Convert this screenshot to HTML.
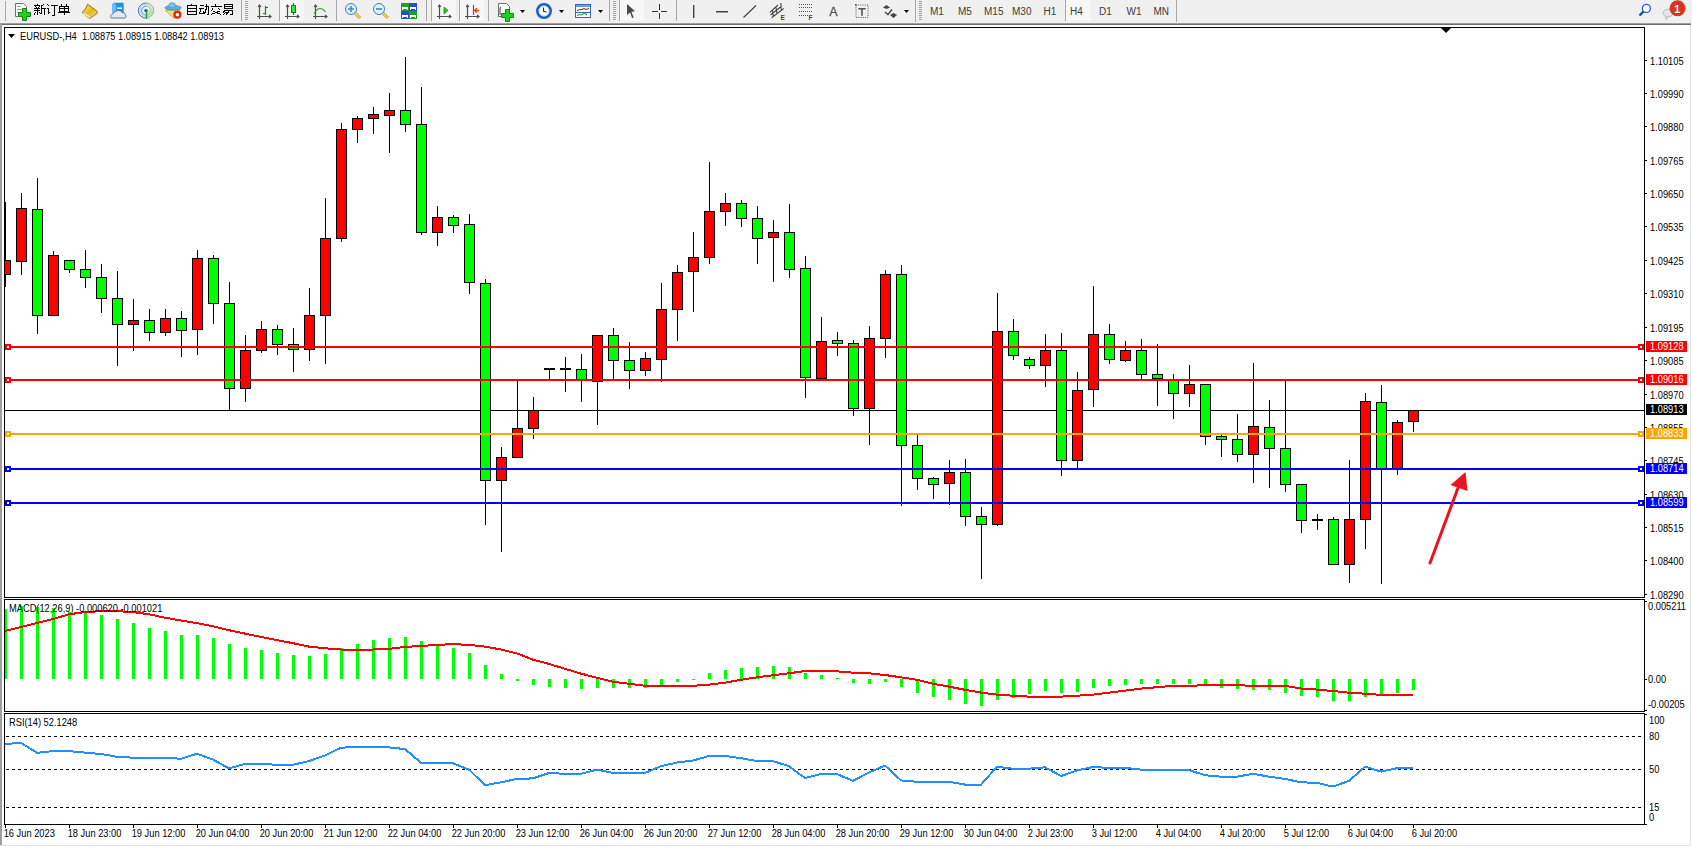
<!DOCTYPE html>
<html><head><meta charset="utf-8"><style>
html,body{margin:0;padding:0;width:1692px;height:847px;overflow:hidden;background:#f0f0f0;}
svg{position:absolute;left:0;top:0;font-family:"Liberation Sans", sans-serif;}
</style></head><body>
<svg width="1692" height="847" viewBox="0 0 1692 847">
<defs><clipPath id="cm"><rect x="5" y="28" width="1639" height="569"/></clipPath>
<clipPath id="cmacd"><rect x="5" y="600" width="1639" height="111"/></clipPath>
<clipPath id="crsi"><rect x="5" y="714" width="1639" height="110"/></clipPath></defs>
<!-- window bg -->
<rect x="0" y="0" width="1692" height="23" fill="#f0f0f0"/><rect x="0" y="23" width="1692" height="824" fill="#fff"/>
<rect x="0" y="23" width="1691" height="1" fill="#a0a0a0"/><rect x="0" y="24" width="1691" height="1" fill="#6e6e6e"/>
<rect x="0" y="23" width="2" height="823" fill="#a0a0a0"/>
<rect x="1690" y="25" width="1" height="821" fill="#e3e3e3"/>
<rect x="0" y="845" width="1691" height="1" fill="#e3e3e3"/>
<g id="toolbar">
<!-- separators -->
<g shape-rendering="crispEdges" fill="#a8a8a8">
<rect x="5" y="1" width="1" height="20"/>
<rect x="241" y="0" width="1" height="21"/>
<rect x="279" y="0" width="1" height="21"/>
<rect x="336" y="0" width="1" height="21"/>
<rect x="426" y="0" width="1" height="21"/>
<rect x="431" y="0" width="1" height="21"/>
<rect x="459" y="0" width="1" height="21"/>
<rect x="488" y="0" width="1" height="21"/>
<rect x="609" y="0" width="1" height="21"/>
<rect x="619" y="0" width="1" height="21"/>
<rect x="676" y="0" width="1" height="21"/>
<rect x="915" y="0" width="1" height="22"/>
<rect x="1065" y="0" width="1" height="21"/>
<rect x="1176" y="0" width="1" height="22"/>
</g>
<!-- grips -->
<g shape-rendering="crispEdges" fill="#a0a0a0">
<rect x="245" y="1" width="3" height="1"/><rect x="245" y="3" width="3" height="1"/><rect x="245" y="5" width="3" height="1"/><rect x="245" y="7" width="3" height="1"/><rect x="245" y="9" width="3" height="1"/><rect x="245" y="11" width="3" height="1"/><rect x="245" y="13" width="3" height="1"/><rect x="245" y="15" width="3" height="1"/><rect x="245" y="17" width="3" height="1"/><rect x="245" y="19" width="3" height="1"/>
<rect x="613" y="1" width="3" height="1"/><rect x="613" y="3" width="3" height="1"/><rect x="613" y="5" width="3" height="1"/><rect x="613" y="7" width="3" height="1"/><rect x="613" y="9" width="3" height="1"/><rect x="613" y="11" width="3" height="1"/><rect x="613" y="13" width="3" height="1"/><rect x="613" y="15" width="3" height="1"/><rect x="613" y="17" width="3" height="1"/><rect x="613" y="19" width="3" height="1"/>
<rect x="919" y="1" width="3" height="1"/><rect x="919" y="3" width="3" height="1"/><rect x="919" y="5" width="3" height="1"/><rect x="919" y="7" width="3" height="1"/><rect x="919" y="9" width="3" height="1"/><rect x="919" y="11" width="3" height="1"/><rect x="919" y="13" width="3" height="1"/><rect x="919" y="15" width="3" height="1"/><rect x="919" y="17" width="3" height="1"/><rect x="919" y="19" width="3" height="1"/>
</g>
<!-- checked button backgrounds -->
<g shape-rendering="crispEdges" fill="#f7f7f7">
<rect x="280" y="0" width="24" height="21"/>
<rect x="432" y="0" width="24" height="21"/>
<rect x="460" y="0" width="24" height="21"/>
<rect x="620" y="0" width="24" height="21"/>
<rect x="1066" y="0" width="24" height="21"/>
</g>
<!-- new order icon -->
<path d="M15.5,3.5 h8 l3,3 v10 h-11 z" fill="#fff" stroke="#707070"/>
<path d="M17,6.5 h4 M17,9.5 h6 M17,12.5 h5" stroke="#a0a0a0"/>
<path d="M22.5,8.5 h4 v4 h4 v4 h-4 v4 h-4 v-4 h-4 v-4 h4 z" fill="#1ed41e" stroke="#0f8a0f"/>
<!-- 新订单 -->
<g fill="none" stroke="#000" stroke-width="1" shape-rendering="crispEdges">
<path d="M37.5,4 v1.5 M34,5.5 h6 M35.5,6.5 l1,1.5 M39.5,6.5 l-1,1.5 M34,8.5 h6 M34,10.5 h6 M37.5,8.5 v6.5 M35.5,12 l-1.5,2.5 M39.5,12 l1,1.5"/>
<path d="M44,4.5 l-2.5,1 v7 l-1,2 M41.5,8.5 h4.5 M44.5,8.5 v6.5"/>
<path d="M47.5,4.5 l1,1.5 M46.5,8.5 h2 v5 l1.5,-1.5"/>
<path d="M50.5,5.5 h7.5 M54.5,5.5 v9.5 h-3"/>
<path d="M61,4 l1,1.5 M67,4 l-1,1.5 M59.5,6.5 h9 v5 h-9 z M59.5,8.5 h9 M64.5,6 v9 M58,12.5 h12"/>
</g>
<!-- book icon -->
<defs><linearGradient id="gbook" x1="0" y1="0" x2="1" y2="1"><stop offset="0" stop-color="#fff4a0"/><stop offset="0.5" stop-color="#e8b818"/><stop offset="1" stop-color="#f8e070"/></linearGradient></defs>
<polygon points="87.6,4.2 96.7,10.9 97.7,13 89.7,18.4 82.2,12.7 86,8" fill="url(#gbook)" stroke="#9a6a10" stroke-width="1" stroke-linejoin="round"/>
<path d="M83.5,13.2 l6.5,4" stroke="#fae6b0" stroke-width="1.6"/>
<path d="M90.5,16.8 l6.3,-4.3" stroke="#d8c890" stroke-width="1.2"/>
<!-- server cloud -->
<polygon points="112,4.5 114,2.8 123.5,2.8 123.5,12.5 112,12.5" fill="#1a8ae8"/>
<polygon points="112,4.5 114,2.8 116,4.5 116,12.5 112,12.5" fill="#60c0ff"/>
<rect x="116" y="4.5" width="7.5" height="8" fill="#2a90e0"/>
<rect x="117" y="7.5" width="5" height="1.5" fill="#e8f4ff"/>
<path d="M111,18 q-1.5,-3.5 2,-4 q0,-2.5 3,-2.5 q1,-1.5 3,-1 q2.5,0 3,2 q3,-0.5 3.5,2.5 q1.5,2 -0.5,3 z" fill="#e4e8f0" stroke="#5a6a98" stroke-width="0.9"/>
<!-- signal icon -->
<g fill="none" stroke-width="1">
<path d="M146,3 a7.6,7.6 0 0 0 0,15.2" stroke="#3a6ad0"/>
<path d="M146,3 a7.6,7.6 0 0 1 0,15.2" stroke="#7ab87a"/>
<path d="M146,6.2 a4.4,4.4 0 0 0 0,8.8" stroke="#5a88d8"/>
<path d="M146,6.2 a4.4,4.4 0 0 1 0,8.8" stroke="#8ac88a"/>
<path d="M146,4.6 a6,6 0 0 0 0,12" stroke="#b8ccf0"/>
<path d="M146,4.6 a6,6 0 0 1 0,12" stroke="#b8dcb8"/>
</g>
<path d="M146.5,11 L146.5,18.4 A7.5,7.5 0 0 0 153.5,11 z" fill="#a8d8a8" opacity="0.55"/>
<circle cx="146" cy="10.6" r="1.7" fill="#1a4ac0"/>
<path d="M146.5,10.6 v8" fill="none" stroke="#20a020" stroke-width="1.3"/>
<!-- EA hat -->
<polygon points="165.3,10.4 179.8,9.5 174.1,18.4" fill="#f4e070" stroke="#c8a030" stroke-width="0.8"/>
<ellipse cx="173" cy="7.8" rx="8" ry="2.2" fill="#60b4e4" stroke="#2a80b8" stroke-width="0.8"/>
<ellipse cx="172.2" cy="5.3" rx="3.5" ry="2.6" fill="#78c4ee" stroke="#3a90c8" stroke-width="0.6"/>
<circle cx="177.4" cy="14.7" r="4.1" fill="#dc2a14"/>
<rect x="175.9" y="13.2" width="3" height="3" fill="#fff"/>
<!-- 自动交易 -->
<g fill="none" stroke="#000" stroke-width="1" shape-rendering="crispEdges">
<path d="M191,4 l0.5,1.5 M187.5,5.5 h8.5 v9 h-8.5 z M187.5,8.5 h8.5 M187.5,11.5 h8.5"/>
<path d="M199.5,5.5 h4.5 M198.5,8.5 h5.5 M201,9 l-1.5,4.5 h4 M203,11.5 l1,2 M204.5,6.5 h4 v8 h-1.5 M206.5,4 v4 l-2,6"/>
<path d="M215.5,4 l0.5,1.5 M210.5,6.5 h11 M213,8.5 l-2,2.5 M218.5,8.5 l2,2 M213,11 l8,3.5 M219.5,11 l-8.5,3.5"/>
<path d="M224.5,4.5 h7.5 v4 h-7.5 z M224.5,6.5 h7.5 M223.5,10.5 h8.5 v4 h-2 M225,10.5 l-2,2 M226.5,12 l-3,2.5 M229,11.5 l-3,3"/>
</g>
<!-- bar chart icon -->
<g fill="none" stroke="#505050" stroke-width="1.2">
<path d="M259.5,5 v14 M257,16.5 h14 M258,7 l1.5,-2 l1.5,2 M269,15 l2,1.5 l-2,1.5"/>
<path d="M287.5,5 v14 M285,16.5 h14 M286,7 l1.5,-2 l1.5,2 M297,15 l2,1.5 l-2,1.5"/>
<path d="M315.5,5 v14 M313,16.5 h14 M314,7 l1.5,-2 l1.5,2 M325,15 l2,1.5 l-2,1.5"/>
<path d="M439.5,5 v14 M437,16.5 h14 M438,7 l1.5,-2 l1.5,2 M449,15 l2,1.5 l-2,1.5"/>
<path d="M467.5,5 v14 M465,16.5 h14 M466,7 l1.5,-2 l1.5,2 M477,15 l2,1.5 l-2,1.5"/>
</g>
<path d="M265.5,6 v9 M265.5,7.5 h2.5 M263,13.5 h2.5" fill="none" stroke="#109010" stroke-width="1.2"/>
<path d="M293.5,3 v12" stroke="#0a8a0a" stroke-width="1.2"/>
<rect x="291.5" y="5.5" width="4" height="7" fill="#40e040" stroke="#0a8a0a"/>
<path d="M314,13.5 q3,-5 6,-5 q3,0 5.5,3.5" fill="none" stroke="#30a030" stroke-width="1.1"/>
<polygon points="444,7 448,10.5 444,14" fill="#30c030" stroke="#109010" stroke-width="0.8"/>
<path d="M473.5,5 v10" stroke="#1a70b0" stroke-width="1.2"/>
<path d="M474.5,10.5 h4.5 M477,8.3 l-2.5,2.2 l2.5,2.2" fill="none" stroke="#e04a10" stroke-width="1.3"/>
<!-- zoom in / out -->
<g>
<path d="M355,13 l5,5" stroke="#b88a20" stroke-width="3"/>
<path d="M355,13 l5,5" stroke="#f0e070" stroke-width="1.6"/>
<circle cx="351" cy="9" r="5.5" fill="#dff0fc" stroke="#3c82c8" stroke-width="1"/>
<path d="M348,9 h6 M351,6 v6" stroke="#4a88b0" stroke-width="1.6"/>
<path d="M383,13 l5,5" stroke="#b88a20" stroke-width="3"/>
<path d="M383,13 l5,5" stroke="#f0e070" stroke-width="1.6"/>
<circle cx="379" cy="9" r="5.5" fill="#dff0fc" stroke="#3c82c8" stroke-width="1"/>
<path d="M376,9 h6" stroke="#4a88b0" stroke-width="1.6"/>
</g>
<!-- tile windows -->
<g shape-rendering="crispEdges">
<rect x="401" y="3" width="8" height="8" fill="#22a022"/>
<rect x="409" y="3" width="8" height="8" fill="#2050d0"/>
<rect x="401" y="11" width="8" height="8" fill="#2050d0"/>
<rect x="409" y="11" width="8" height="8" fill="#22a022"/>
<path d="M402,7 h6 v3 h-1 v-1 h-4 v1 h-1 z M410,7 h6 v3 h-1 v-1 h-4 v1 h-1 z M402,15 h6 v3 h-1 v-1 h-4 v1 h-1 z M410,15 h6 v3 h-1 v-1 h-4 v1 h-1 z" fill="#fff"/>
</g>
<!-- new chart -->
<path d="M498.5,3.5 h8 l3,3 v10 h-11 z" fill="#fff" stroke="#707070"/>
<path d="M501,7 q-1,0 -1,2 v6" stroke="#404030" fill="none"/>
<path d="M505.5,9.5 h4 v4 h4 v4 h-4 v4 h-4 v-4 h-4 v-4 h4 z" fill="#1ed41e" stroke="#0f8a0f"/>
<polygon points="520,10 525,10 522.5,13" fill="#000"/>
<!-- clock -->
<circle cx="544" cy="11" r="6.7" fill="#fff" stroke="#1a5ec4" stroke-width="2.6"/>
<circle cx="544" cy="11" r="5.2" fill="none" stroke="#90c0f0" stroke-width="0.6"/>
<path d="M543.5,7.5 v3.5 l3,1.2" fill="none" stroke="#303030" stroke-width="1.2"/>
<path d="M544,15.5 v0.8 M539.5,11 h0.8 M548,11 h0.8" stroke="#a0a0a0" stroke-width="0.8"/>
<polygon points="559,10 564,10 561.5,13" fill="#000"/>
<!-- template -->
<rect x="575.5" y="4.5" width="15" height="13" fill="#fff" stroke="#2a6ac0"/>
<rect x="576" y="5" width="14" height="2" fill="#6aa0e0"/>
<rect x="576" y="12" width="14" height="1" fill="#2a6ac0"/>
<path d="M577,10.5 l3,-1 l2,0 l2,-1 l2,1 l3,-1" fill="none" stroke="#b02010" stroke-width="1.1"/>
<path d="M577,15.5 l2,-1 l2,0.5 l2,-1 l2,-1 l2,2" fill="none" stroke="#20a020" stroke-width="1.1"/>
<polygon points="598,10 603,10 600.5,13" fill="#000"/>
<!-- cursor -->
<polygon points="627,4 635,11.3 631.5,11.8 633.6,17.5 632.2,18.2 630.1,12.5 627,15.1" fill="#4a4a4a"/>
<!-- crosshair -->
<path d="M659.5,4 v6 M659.5,13 v6 M652,11.5 h6 M661,11.5 h6" stroke="#333" stroke-width="1" shape-rendering="crispEdges"/>
<!-- vertical/horizontal/trend -->
<rect x="693" y="5" width="1.4" height="13" fill="#444"/>
<rect x="716" y="11" width="12" height="1.5" fill="#444"/>
<path d="M743.5,17.5 l12.5,-12" stroke="#444" stroke-width="1.2"/>
<!-- channel E -->
<g stroke="#444" fill="none" stroke-width="1.1">
<path d="M769.9,12.4 L778,5 M771.6,17.7 L783.7,8.5 M772.5,10.5 l0.8,5.5 M776,7.5 l0.8,5.5 M780.8,3 l0.5,7 M770.5,15 l10,-8"/>
</g>
<text x="780.5" y="20" font-size="6.5" font-weight="bold" fill="#444">E</text>
<!-- fib F -->
<g fill="#555" shape-rendering="crispEdges">
<path d="M799,4h1v1h-1zM801,4h1v1h-1zM803,4h1v1h-1zM805,4h1v1h-1zM807,4h1v1h-1zM809,4h1v1h-1zM811,4h1v1h-1z"/>
<path d="M799,7h1v1h-1zM801,7h1v1h-1zM803,7h1v1h-1zM805,7h1v1h-1zM807,7h1v1h-1zM809,7h1v1h-1zM811,7h1v1h-1z"/>
<path d="M799,11h1v1h-1zM801,11h1v1h-1zM803,11h1v1h-1zM805,11h1v1h-1zM807,11h1v1h-1zM809,11h1v1h-1zM811,11h1v1h-1z"/>
<path d="M799,15h1v1h-1zM801,15h1v1h-1zM803,15h1v1h-1zM805,15h1v1h-1zM807,15h1v1h-1z"/>
</g>
<text x="808.5" y="20" font-size="6.5" font-weight="bold" fill="#444">F</text>
<!-- A -->
<text x="829.3" y="16" font-size="12.5" fill="#555" stroke="#555" stroke-width="0.3">A</text>
<!-- T box -->
<rect x="856" y="5" width="12" height="12.5" fill="none" stroke="#555" stroke-dasharray="1,1.2"/><rect x="855" y="4" width="1.5" height="1.5" fill="#555"/>
<path d="M858.3,8.7 h7.4 M862,8.7 v7" stroke="#555" stroke-width="1.6" fill="none"/>
<!-- arrows icon -->
<polygon points="883,7.5 886.5,5 890,7.5 886.5,9" fill="#444"/>
<path d="M885,12 l3,2.5 l4,-5" fill="none" stroke="#444" stroke-width="1.3"/>
<polygon points="890,15 893.5,13 897,15 893.5,18" fill="#444"/>
<polygon points="904,10 909,10 906.5,13" fill="#000"/>
<!-- timeframes -->
<g font-size="10" fill="#3c3c3c">
<text x="930" y="15">M1</text>
<text x="958" y="15">M5</text>
<text x="984" y="15">M15</text>
<text x="1012" y="15">M30</text>
<text x="1043.5" y="15">H1</text>
<text x="1070" y="15">H4</text>
<text x="1099" y="15">D1</text>
<text x="1126.5" y="15">W1</text>
<text x="1153.5" y="15">MN</text>
</g>
<!-- search -->
<circle cx="1646.4" cy="8.4" r="4" fill="#fff" stroke="#2a5ad0" stroke-width="1.3"/>
<path d="M1643.5,11.5 l-4,4" stroke="#1a4ac0" stroke-width="2.4"/>
<!-- speech + badge -->
<ellipse cx="1668" cy="13" rx="5" ry="3.8" fill="#e4e6ee" stroke="#b0b0b8" stroke-width="0.8"/>
<path d="M1665.5,16 l0.5,3.5 l2,-2.5" fill="#e4e6ee" stroke="#a0a0a0" stroke-width="0.6"/>
<circle cx="1677.5" cy="8.3" r="8" fill="#dc3220"/>
<text x="1674.3" y="13" font-size="10.5" font-weight="bold" fill="#fff">1</text>
</g>

<g clip-path="url(#cm)"><g shape-rendering="crispEdges"><rect x="5" y="410" width="1639" height="1" fill="#000"/><rect x="5" y="202" width="1" height="85" fill="#000"/><rect x="0" y="260" width="11" height="15" fill="#000"/><rect x="1" y="261" width="9" height="13" fill="#ff0000"/><rect x="21" y="193" width="1" height="82" fill="#000"/><rect x="16" y="208" width="11" height="54" fill="#000"/><rect x="17" y="209" width="9" height="52" fill="#ff0000"/><rect x="37" y="178" width="1" height="156" fill="#000"/><rect x="32" y="209" width="11" height="107" fill="#000"/><rect x="33" y="210" width="9" height="105" fill="#00ff00"/><rect x="53" y="251" width="1" height="65" fill="#000"/><rect x="48" y="255" width="11" height="61" fill="#000"/><rect x="49" y="256" width="9" height="59" fill="#ff0000"/><rect x="69" y="260" width="1" height="13" fill="#000"/><rect x="64" y="260" width="11" height="10" fill="#000"/><rect x="65" y="261" width="9" height="8" fill="#00ff00"/><rect x="85" y="250" width="1" height="38" fill="#000"/><rect x="80" y="269" width="11" height="9" fill="#000"/><rect x="81" y="270" width="9" height="7" fill="#00ff00"/><rect x="101" y="264" width="1" height="49" fill="#000"/><rect x="96" y="277" width="11" height="22" fill="#000"/><rect x="97" y="278" width="9" height="20" fill="#00ff00"/><rect x="117" y="271" width="1" height="95" fill="#000"/><rect x="112" y="298" width="11" height="27" fill="#000"/><rect x="113" y="299" width="9" height="25" fill="#00ff00"/><rect x="133" y="299" width="1" height="52" fill="#000"/><rect x="128" y="320" width="11" height="5" fill="#000"/><rect x="129" y="321" width="9" height="3" fill="#ff0000"/><rect x="149" y="309" width="1" height="32" fill="#000"/><rect x="144" y="320" width="11" height="13" fill="#000"/><rect x="145" y="321" width="9" height="11" fill="#00ff00"/><rect x="165" y="309" width="1" height="27" fill="#000"/><rect x="160" y="318" width="11" height="15" fill="#000"/><rect x="161" y="319" width="9" height="13" fill="#ff0000"/><rect x="181" y="311" width="1" height="46" fill="#000"/><rect x="176" y="318" width="11" height="13" fill="#000"/><rect x="177" y="319" width="9" height="11" fill="#00ff00"/><rect x="197" y="250" width="1" height="105" fill="#000"/><rect x="192" y="258" width="11" height="72" fill="#000"/><rect x="193" y="259" width="9" height="70" fill="#ff0000"/><rect x="213" y="255" width="1" height="69" fill="#000"/><rect x="208" y="258" width="11" height="46" fill="#000"/><rect x="209" y="259" width="9" height="44" fill="#00ff00"/><rect x="229" y="282" width="1" height="129" fill="#000"/><rect x="224" y="303" width="11" height="86" fill="#000"/><rect x="225" y="304" width="9" height="84" fill="#00ff00"/><rect x="245" y="335" width="1" height="67" fill="#000"/><rect x="240" y="350" width="11" height="39" fill="#000"/><rect x="241" y="351" width="9" height="37" fill="#ff0000"/><rect x="261" y="321" width="1" height="32" fill="#000"/><rect x="256" y="329" width="11" height="22" fill="#000"/><rect x="257" y="330" width="9" height="20" fill="#ff0000"/><rect x="277" y="325" width="1" height="30" fill="#000"/><rect x="272" y="329" width="11" height="16" fill="#000"/><rect x="273" y="330" width="9" height="14" fill="#00ff00"/><rect x="293" y="328" width="1" height="44" fill="#000"/><rect x="288" y="344" width="11" height="6" fill="#000"/><rect x="289" y="345" width="9" height="4" fill="#00ff00"/><rect x="309" y="288" width="1" height="73" fill="#000"/><rect x="304" y="315" width="11" height="35" fill="#000"/><rect x="305" y="316" width="9" height="33" fill="#ff0000"/><rect x="325" y="198" width="1" height="166" fill="#000"/><rect x="320" y="238" width="11" height="78" fill="#000"/><rect x="321" y="239" width="9" height="76" fill="#ff0000"/><rect x="341" y="123" width="1" height="119" fill="#000"/><rect x="336" y="129" width="11" height="110" fill="#000"/><rect x="337" y="130" width="9" height="108" fill="#ff0000"/><rect x="357" y="116" width="1" height="27" fill="#000"/><rect x="352" y="118" width="11" height="12" fill="#000"/><rect x="353" y="119" width="9" height="10" fill="#ff0000"/><rect x="373" y="107" width="1" height="27" fill="#000"/><rect x="368" y="114" width="11" height="5" fill="#000"/><rect x="369" y="115" width="9" height="3" fill="#ff0000"/><rect x="389" y="93" width="1" height="60" fill="#000"/><rect x="384" y="110" width="11" height="6" fill="#000"/><rect x="385" y="111" width="9" height="4" fill="#ff0000"/><rect x="405" y="57" width="1" height="75" fill="#000"/><rect x="400" y="110" width="11" height="15" fill="#000"/><rect x="401" y="111" width="9" height="13" fill="#00ff00"/><rect x="421" y="87" width="1" height="148" fill="#000"/><rect x="416" y="124" width="11" height="109" fill="#000"/><rect x="417" y="125" width="9" height="107" fill="#00ff00"/><rect x="437" y="206" width="1" height="40" fill="#000"/><rect x="432" y="217" width="11" height="16" fill="#000"/><rect x="433" y="218" width="9" height="14" fill="#ff0000"/><rect x="453" y="215" width="1" height="18" fill="#000"/><rect x="448" y="217" width="11" height="9" fill="#000"/><rect x="449" y="218" width="9" height="7" fill="#00ff00"/><rect x="469" y="214" width="1" height="80" fill="#000"/><rect x="464" y="224" width="11" height="59" fill="#000"/><rect x="465" y="225" width="9" height="57" fill="#00ff00"/><rect x="485" y="279" width="1" height="246" fill="#000"/><rect x="480" y="283" width="11" height="198" fill="#000"/><rect x="481" y="284" width="9" height="196" fill="#00ff00"/><rect x="501" y="447" width="1" height="105" fill="#000"/><rect x="496" y="457" width="11" height="24" fill="#000"/><rect x="497" y="458" width="9" height="22" fill="#ff0000"/><rect x="517" y="380" width="1" height="78" fill="#000"/><rect x="512" y="428" width="11" height="30" fill="#000"/><rect x="513" y="429" width="9" height="28" fill="#ff0000"/><rect x="533" y="397" width="1" height="42" fill="#000"/><rect x="528" y="410" width="11" height="19" fill="#000"/><rect x="529" y="411" width="9" height="17" fill="#ff0000"/><rect x="549" y="368" width="1" height="12" fill="#000"/><rect x="544" y="368" width="11" height="2" fill="#000"/><rect x="565" y="357" width="1" height="35" fill="#000"/><rect x="560" y="368" width="11" height="2" fill="#000"/><rect x="581" y="354" width="1" height="48" fill="#000"/><rect x="576" y="369" width="11" height="11" fill="#000"/><rect x="577" y="370" width="9" height="9" fill="#00ff00"/><rect x="597" y="335" width="1" height="90" fill="#000"/><rect x="592" y="335" width="11" height="47" fill="#000"/><rect x="593" y="336" width="9" height="45" fill="#ff0000"/><rect x="613" y="328" width="1" height="51" fill="#000"/><rect x="608" y="335" width="11" height="26" fill="#000"/><rect x="609" y="336" width="9" height="24" fill="#00ff00"/><rect x="629" y="342" width="1" height="47" fill="#000"/><rect x="624" y="360" width="11" height="11" fill="#000"/><rect x="625" y="361" width="9" height="9" fill="#00ff00"/><rect x="645" y="352" width="1" height="24" fill="#000"/><rect x="640" y="358" width="11" height="13" fill="#000"/><rect x="641" y="359" width="9" height="11" fill="#ff0000"/><rect x="661" y="283" width="1" height="99" fill="#000"/><rect x="656" y="309" width="11" height="51" fill="#000"/><rect x="657" y="310" width="9" height="49" fill="#ff0000"/><rect x="677" y="265" width="1" height="76" fill="#000"/><rect x="672" y="272" width="11" height="38" fill="#000"/><rect x="673" y="273" width="9" height="36" fill="#ff0000"/><rect x="693" y="232" width="1" height="80" fill="#000"/><rect x="688" y="257" width="11" height="15" fill="#000"/><rect x="689" y="258" width="9" height="13" fill="#ff0000"/><rect x="709" y="162" width="1" height="102" fill="#000"/><rect x="704" y="211" width="11" height="47" fill="#000"/><rect x="705" y="212" width="9" height="45" fill="#ff0000"/><rect x="725" y="193" width="1" height="33" fill="#000"/><rect x="720" y="203" width="11" height="9" fill="#000"/><rect x="721" y="204" width="9" height="7" fill="#ff0000"/><rect x="741" y="200" width="1" height="27" fill="#000"/><rect x="736" y="203" width="11" height="16" fill="#000"/><rect x="737" y="204" width="9" height="14" fill="#00ff00"/><rect x="757" y="206" width="1" height="58" fill="#000"/><rect x="752" y="218" width="11" height="21" fill="#000"/><rect x="753" y="219" width="9" height="19" fill="#00ff00"/><rect x="773" y="220" width="1" height="62" fill="#000"/><rect x="768" y="232" width="11" height="6" fill="#000"/><rect x="769" y="233" width="9" height="4" fill="#ff0000"/><rect x="789" y="204" width="1" height="74" fill="#000"/><rect x="784" y="232" width="11" height="38" fill="#000"/><rect x="785" y="233" width="9" height="36" fill="#00ff00"/><rect x="805" y="256" width="1" height="142" fill="#000"/><rect x="800" y="268" width="11" height="110" fill="#000"/><rect x="801" y="269" width="9" height="108" fill="#00ff00"/><rect x="821" y="317" width="1" height="62" fill="#000"/><rect x="816" y="341" width="11" height="38" fill="#000"/><rect x="817" y="342" width="9" height="36" fill="#ff0000"/><rect x="837" y="332" width="1" height="24" fill="#000"/><rect x="832" y="340" width="11" height="4" fill="#000"/><rect x="833" y="341" width="9" height="2" fill="#00ff00"/><rect x="853" y="340" width="1" height="76" fill="#000"/><rect x="848" y="343" width="11" height="66" fill="#000"/><rect x="849" y="344" width="9" height="64" fill="#00ff00"/><rect x="869" y="326" width="1" height="119" fill="#000"/><rect x="864" y="338" width="11" height="71" fill="#000"/><rect x="865" y="339" width="9" height="69" fill="#ff0000"/><rect x="885" y="270" width="1" height="88" fill="#000"/><rect x="880" y="274" width="11" height="65" fill="#000"/><rect x="881" y="275" width="9" height="63" fill="#ff0000"/><rect x="901" y="265" width="1" height="241" fill="#000"/><rect x="896" y="274" width="11" height="172" fill="#000"/><rect x="897" y="275" width="9" height="170" fill="#00ff00"/><rect x="917" y="435" width="1" height="55" fill="#000"/><rect x="912" y="445" width="11" height="34" fill="#000"/><rect x="913" y="446" width="9" height="32" fill="#00ff00"/><rect x="933" y="477" width="1" height="22" fill="#000"/><rect x="928" y="478" width="11" height="7" fill="#000"/><rect x="929" y="479" width="9" height="5" fill="#00ff00"/><rect x="949" y="460" width="1" height="45" fill="#000"/><rect x="944" y="472" width="11" height="12" fill="#000"/><rect x="945" y="473" width="9" height="10" fill="#ff0000"/><rect x="965" y="459" width="1" height="67" fill="#000"/><rect x="960" y="472" width="11" height="45" fill="#000"/><rect x="961" y="473" width="9" height="43" fill="#00ff00"/><rect x="981" y="507" width="1" height="72" fill="#000"/><rect x="976" y="516" width="11" height="9" fill="#000"/><rect x="977" y="517" width="9" height="7" fill="#00ff00"/><rect x="997" y="293" width="1" height="233" fill="#000"/><rect x="992" y="331" width="11" height="194" fill="#000"/><rect x="993" y="332" width="9" height="192" fill="#ff0000"/><rect x="1013" y="319" width="1" height="41" fill="#000"/><rect x="1008" y="331" width="11" height="25" fill="#000"/><rect x="1009" y="332" width="9" height="23" fill="#00ff00"/><rect x="1029" y="357" width="1" height="12" fill="#000"/><rect x="1024" y="359" width="11" height="7" fill="#000"/><rect x="1025" y="360" width="9" height="5" fill="#00ff00"/><rect x="1045" y="334" width="1" height="53" fill="#000"/><rect x="1040" y="350" width="11" height="16" fill="#000"/><rect x="1041" y="351" width="9" height="14" fill="#ff0000"/><rect x="1061" y="333" width="1" height="143" fill="#000"/><rect x="1056" y="350" width="11" height="111" fill="#000"/><rect x="1057" y="351" width="9" height="109" fill="#00ff00"/><rect x="1077" y="372" width="1" height="97" fill="#000"/><rect x="1072" y="390" width="11" height="71" fill="#000"/><rect x="1073" y="391" width="9" height="69" fill="#ff0000"/><rect x="1093" y="286" width="1" height="121" fill="#000"/><rect x="1088" y="334" width="11" height="56" fill="#000"/><rect x="1089" y="335" width="9" height="54" fill="#ff0000"/><rect x="1109" y="324" width="1" height="40" fill="#000"/><rect x="1104" y="334" width="11" height="26" fill="#000"/><rect x="1105" y="335" width="9" height="24" fill="#00ff00"/><rect x="1125" y="341" width="1" height="21" fill="#000"/><rect x="1120" y="350" width="11" height="11" fill="#000"/><rect x="1121" y="351" width="9" height="9" fill="#ff0000"/><rect x="1141" y="339" width="1" height="40" fill="#000"/><rect x="1136" y="350" width="11" height="25" fill="#000"/><rect x="1137" y="351" width="9" height="23" fill="#00ff00"/><rect x="1157" y="344" width="1" height="62" fill="#000"/><rect x="1152" y="374" width="11" height="5" fill="#000"/><rect x="1153" y="375" width="9" height="3" fill="#00ff00"/><rect x="1173" y="374" width="1" height="45" fill="#000"/><rect x="1168" y="380" width="11" height="14" fill="#000"/><rect x="1169" y="381" width="9" height="12" fill="#00ff00"/><rect x="1189" y="365" width="1" height="42" fill="#000"/><rect x="1184" y="384" width="11" height="10" fill="#000"/><rect x="1185" y="385" width="9" height="8" fill="#ff0000"/><rect x="1205" y="384" width="1" height="61" fill="#000"/><rect x="1200" y="384" width="11" height="53" fill="#000"/><rect x="1201" y="385" width="9" height="51" fill="#00ff00"/><rect x="1221" y="435" width="1" height="22" fill="#000"/><rect x="1216" y="436" width="11" height="4" fill="#000"/><rect x="1217" y="437" width="9" height="2" fill="#00ff00"/><rect x="1237" y="414" width="1" height="48" fill="#000"/><rect x="1232" y="439" width="11" height="16" fill="#000"/><rect x="1233" y="440" width="9" height="14" fill="#00ff00"/><rect x="1253" y="363" width="1" height="120" fill="#000"/><rect x="1248" y="426" width="11" height="29" fill="#000"/><rect x="1249" y="427" width="9" height="27" fill="#ff0000"/><rect x="1269" y="400" width="1" height="88" fill="#000"/><rect x="1264" y="427" width="11" height="22" fill="#000"/><rect x="1265" y="428" width="9" height="20" fill="#00ff00"/><rect x="1285" y="380" width="1" height="112" fill="#000"/><rect x="1280" y="448" width="11" height="37" fill="#000"/><rect x="1281" y="449" width="9" height="35" fill="#00ff00"/><rect x="1301" y="484" width="1" height="49" fill="#000"/><rect x="1296" y="484" width="11" height="37" fill="#000"/><rect x="1297" y="485" width="9" height="35" fill="#00ff00"/><rect x="1317" y="514" width="1" height="16" fill="#000"/><rect x="1312" y="519" width="11" height="2" fill="#000"/><rect x="1333" y="517" width="1" height="48" fill="#000"/><rect x="1328" y="519" width="11" height="46" fill="#000"/><rect x="1329" y="520" width="9" height="44" fill="#00ff00"/><rect x="1349" y="460" width="1" height="123" fill="#000"/><rect x="1344" y="519" width="11" height="46" fill="#000"/><rect x="1345" y="520" width="9" height="44" fill="#ff0000"/><rect x="1365" y="393" width="1" height="156" fill="#000"/><rect x="1360" y="401" width="11" height="119" fill="#000"/><rect x="1361" y="402" width="9" height="117" fill="#ff0000"/><rect x="1381" y="385" width="1" height="199" fill="#000"/><rect x="1376" y="402" width="11" height="67" fill="#000"/><rect x="1377" y="403" width="9" height="65" fill="#00ff00"/><rect x="1397" y="420" width="1" height="55" fill="#000"/><rect x="1392" y="422" width="11" height="47" fill="#000"/><rect x="1393" y="423" width="9" height="45" fill="#ff0000"/><rect x="1413" y="410" width="1" height="22" fill="#000"/><rect x="1408" y="410" width="11" height="12" fill="#000"/><rect x="1409" y="411" width="9" height="10" fill="#ff0000"/></g><g shape-rendering="crispEdges"><rect x="4" y="346" width="1640" height="2" fill="#ff0000"/><rect x="5" y="344" width="6" height="6" fill="#ff0000"/><rect x="7" y="346" width="2" height="2" fill="#fff"/><rect x="1638" y="344" width="6" height="6" fill="#ff0000"/><rect x="1640" y="346" width="2" height="2" fill="#fff"/><rect x="4" y="379" width="1640" height="2" fill="#ff0000"/><rect x="5" y="377" width="6" height="6" fill="#ff0000"/><rect x="7" y="379" width="2" height="2" fill="#fff"/><rect x="1638" y="377" width="6" height="6" fill="#ff0000"/><rect x="1640" y="379" width="2" height="2" fill="#fff"/><rect x="4" y="433" width="1640" height="2" fill="#ffa500"/><rect x="5" y="431" width="6" height="6" fill="#ffa500"/><rect x="7" y="433" width="2" height="2" fill="#fff"/><rect x="1638" y="431" width="6" height="6" fill="#ffa500"/><rect x="1640" y="433" width="2" height="2" fill="#fff"/><rect x="4" y="468" width="1640" height="2" fill="#0000ff"/><rect x="5" y="466" width="6" height="6" fill="#0000ff"/><rect x="7" y="468" width="2" height="2" fill="#fff"/><rect x="1638" y="466" width="6" height="6" fill="#0000ff"/><rect x="1640" y="468" width="2" height="2" fill="#fff"/><rect x="4" y="502" width="1640" height="2" fill="#0000ff"/><rect x="5" y="500" width="6" height="6" fill="#0000ff"/><rect x="7" y="502" width="2" height="2" fill="#fff"/><rect x="1638" y="500" width="6" height="6" fill="#0000ff"/><rect x="1640" y="502" width="2" height="2" fill="#fff"/></g><line x1="1430" y1="563" x2="1458" y2="488" stroke="#e8141e" stroke-width="3" stroke-linecap="round"/><polygon points="1465.5,472 1450.5,485 1467.5,491" fill="#e8141e"/></g>
<g clip-path="url(#cmacd)"><g shape-rendering="crispEdges"><rect x="4" y="609" width="3" height="70" fill="#00ff00"/><rect x="20" y="606" width="3" height="73" fill="#00ff00"/><rect x="36" y="607" width="3" height="72" fill="#00ff00"/><rect x="52" y="608" width="3" height="71" fill="#00ff00"/><rect x="68" y="612" width="3" height="67" fill="#00ff00"/><rect x="84" y="612" width="3" height="67" fill="#00ff00"/><rect x="100" y="615" width="3" height="64" fill="#00ff00"/><rect x="116" y="619" width="3" height="60" fill="#00ff00"/><rect x="132" y="623" width="3" height="56" fill="#00ff00"/><rect x="148" y="628" width="3" height="51" fill="#00ff00"/><rect x="164" y="631" width="3" height="48" fill="#00ff00"/><rect x="180" y="635" width="3" height="44" fill="#00ff00"/><rect x="196" y="635" width="3" height="44" fill="#00ff00"/><rect x="212" y="638" width="3" height="41" fill="#00ff00"/><rect x="228" y="644" width="3" height="35" fill="#00ff00"/><rect x="244" y="648" width="3" height="31" fill="#00ff00"/><rect x="260" y="650" width="3" height="29" fill="#00ff00"/><rect x="276" y="653" width="3" height="26" fill="#00ff00"/><rect x="292" y="655" width="3" height="24" fill="#00ff00"/><rect x="308" y="656" width="3" height="23" fill="#00ff00"/><rect x="324" y="654" width="3" height="25" fill="#00ff00"/><rect x="340" y="648" width="3" height="31" fill="#00ff00"/><rect x="356" y="644" width="3" height="35" fill="#00ff00"/><rect x="372" y="640" width="3" height="39" fill="#00ff00"/><rect x="388" y="638" width="3" height="41" fill="#00ff00"/><rect x="404" y="637" width="3" height="42" fill="#00ff00"/><rect x="420" y="641" width="3" height="38" fill="#00ff00"/><rect x="436" y="644" width="3" height="35" fill="#00ff00"/><rect x="452" y="648" width="3" height="31" fill="#00ff00"/><rect x="468" y="653" width="3" height="26" fill="#00ff00"/><rect x="484" y="665" width="3" height="14" fill="#00ff00"/><rect x="500" y="674" width="3" height="5" fill="#00ff00"/><rect x="516" y="679" width="3" height="2" fill="#00ff00"/><rect x="532" y="679" width="3" height="6" fill="#00ff00"/><rect x="548" y="679" width="3" height="8" fill="#00ff00"/><rect x="564" y="679" width="3" height="9" fill="#00ff00"/><rect x="580" y="679" width="3" height="10" fill="#00ff00"/><rect x="596" y="679" width="3" height="9" fill="#00ff00"/><rect x="612" y="679" width="3" height="9" fill="#00ff00"/><rect x="628" y="679" width="3" height="9" fill="#00ff00"/><rect x="644" y="679" width="3" height="9" fill="#00ff00"/><rect x="660" y="679" width="3" height="6" fill="#00ff00"/><rect x="676" y="679" width="3" height="3" fill="#00ff00"/><rect x="692" y="679" width="3" height="1" fill="#00ff00"/><rect x="708" y="673" width="3" height="6" fill="#00ff00"/><rect x="724" y="670" width="3" height="9" fill="#00ff00"/><rect x="740" y="668" width="3" height="11" fill="#00ff00"/><rect x="756" y="667" width="3" height="12" fill="#00ff00"/><rect x="772" y="666" width="3" height="13" fill="#00ff00"/><rect x="788" y="667" width="3" height="12" fill="#00ff00"/><rect x="804" y="673" width="3" height="6" fill="#00ff00"/><rect x="820" y="675" width="3" height="4" fill="#00ff00"/><rect x="836" y="678" width="3" height="1" fill="#00ff00"/><rect x="852" y="679" width="3" height="4" fill="#00ff00"/><rect x="868" y="679" width="3" height="5" fill="#00ff00"/><rect x="884" y="679" width="3" height="3" fill="#00ff00"/><rect x="900" y="679" width="3" height="8" fill="#00ff00"/><rect x="916" y="679" width="3" height="14" fill="#00ff00"/><rect x="932" y="679" width="3" height="18" fill="#00ff00"/><rect x="948" y="679" width="3" height="21" fill="#00ff00"/><rect x="964" y="679" width="3" height="25" fill="#00ff00"/><rect x="980" y="679" width="3" height="27" fill="#00ff00"/><rect x="996" y="679" width="3" height="21" fill="#00ff00"/><rect x="1012" y="679" width="3" height="19" fill="#00ff00"/><rect x="1028" y="679" width="3" height="15" fill="#00ff00"/><rect x="1044" y="679" width="3" height="12" fill="#00ff00"/><rect x="1060" y="679" width="3" height="14" fill="#00ff00"/><rect x="1076" y="679" width="3" height="13" fill="#00ff00"/><rect x="1092" y="679" width="3" height="9" fill="#00ff00"/><rect x="1108" y="679" width="3" height="7" fill="#00ff00"/><rect x="1124" y="679" width="3" height="6" fill="#00ff00"/><rect x="1140" y="679" width="3" height="5" fill="#00ff00"/><rect x="1156" y="679" width="3" height="5" fill="#00ff00"/><rect x="1172" y="679" width="3" height="5" fill="#00ff00"/><rect x="1188" y="679" width="3" height="5" fill="#00ff00"/><rect x="1204" y="679" width="3" height="7" fill="#00ff00"/><rect x="1220" y="679" width="3" height="9" fill="#00ff00"/><rect x="1236" y="679" width="3" height="10" fill="#00ff00"/><rect x="1252" y="679" width="3" height="11" fill="#00ff00"/><rect x="1268" y="679" width="3" height="11" fill="#00ff00"/><rect x="1284" y="679" width="3" height="14" fill="#00ff00"/><rect x="1300" y="679" width="3" height="17" fill="#00ff00"/><rect x="1316" y="679" width="3" height="18" fill="#00ff00"/><rect x="1332" y="679" width="3" height="22" fill="#00ff00"/><rect x="1348" y="679" width="3" height="22" fill="#00ff00"/><rect x="1364" y="679" width="3" height="18" fill="#00ff00"/><rect x="1380" y="679" width="3" height="15" fill="#00ff00"/><rect x="1396" y="679" width="3" height="14" fill="#00ff00"/><rect x="1412" y="679" width="3" height="11" fill="#00ff00"/></g><polyline points="5,631 21,627 37,623.1 53,619.1 69,614.3 85,612 101,611.2 117,611.2 133,612 149,614.3 165,617.7 181,620.5 197,623.1 213,626.2 229,630.2 245,633.6 261,637 277,640.1 293,643.2 309,646.6 325,648.3 341,649.5 357,649.5 373,649.5 389,648.9 405,646.9 421,646 437,644.9 453,644.1 469,644.9 485,646.6 501,649.5 517,653.4 533,659.7 549,663.9 565,668.8 581,673.6 597,677.8 613,681.8 629,683.8 645,685.8 661,685.8 677,685.8 693,685.8 709,684.6 725,682.7 741,679.8 757,677.3 773,675.3 789,673.3 805,671 821,671 837,671.3 853,672.7 869,673.3 885,675 901,677.3 917,679.8 933,683.8 949,686.6 965,689.8 981,692.6 997,694.6 1013,695.7 1029,696.6 1045,696.6 1061,696.6 1077,695.7 1093,694.6 1109,692.6 1125,690.6 1141,688.6 1157,687.2 1173,685.8 1189,685.8 1205,685.2 1221,685.2 1237,685.2 1253,685.8 1269,685.8 1285,685.8 1301,688.5 1317,689.6 1333,691 1349,692.7 1365,693.7 1381,694.9 1397,694.9 1413,694.9" fill="none" stroke="#ff0000" stroke-width="2" shape-rendering="crispEdges"/></g>
<g clip-path="url(#crsi)"><line x1="6" y1="736.5" x2="1644" y2="736.5" stroke="#000" stroke-width="1" stroke-dasharray="3,3" shape-rendering="crispEdges"/><line x1="6" y1="769.5" x2="1644" y2="769.5" stroke="#000" stroke-width="1" stroke-dasharray="3,3" shape-rendering="crispEdges"/><line x1="6" y1="807.5" x2="1644" y2="807.5" stroke="#000" stroke-width="1" stroke-dasharray="3,3" shape-rendering="crispEdges"/><polyline points="5,744 21,742.9 37,752.8 53,751.1 69,751.1 85,752.6 101,754 117,756.8 133,757.7 149,757.7 165,757.7 181,758.8 197,753.7 213,759.6 229,768.4 245,763.9 261,763.9 277,764.8 293,764.8 309,761.1 325,755.4 341,747.7 357,746.9 373,746.9 389,747.4 405,749.1 421,762.8 437,762.8 453,763.3 469,769.6 485,785.2 501,782.3 517,778.9 533,778.4 549,773 565,773.8 581,773.8 597,769.6 613,773 629,773 645,773 661,766.2 677,762.5 693,760.5 709,756 725,756 741,758.2 757,761.1 773,761.1 789,766.2 805,778.1 821,774.1 837,774.1 853,780.9 869,772.4 885,765.6 901,780.4 917,781.8 933,781.8 949,781.8 965,784.6 981,784.6 997,766.7 1013,768.7 1029,768.7 1045,767.3 1061,776.1 1077,770.4 1093,767 1109,767.9 1125,767.9 1141,769.6 1157,770.1 1173,770.1 1189,770.1 1205,775.2 1221,776.7 1237,776.7 1253,773.8 1269,776.7 1285,778.9 1301,782.3 1317,782.9 1333,786.6 1349,780.9 1365,766.7 1381,771.6 1397,768.2 1413,768" fill="none" stroke="#1e90ff" stroke-width="2" shape-rendering="crispEdges"/></g>
<g shape-rendering="crispEdges"><rect x="4.5" y="27.5" width="1640" height="570" fill="none" stroke="#000" stroke-width="1"/><rect x="4.5" y="599.5" width="1640" height="112" fill="none" stroke="#000" stroke-width="1"/><rect x="4.5" y="713.5" width="1640" height="111" fill="none" stroke="#000" stroke-width="1"/><rect x="1645" y="60" width="2" height="1" fill="#000"/><rect x="1645" y="93" width="2" height="1" fill="#000"/><rect x="1645" y="126" width="2" height="1" fill="#000"/><rect x="1645" y="160" width="2" height="1" fill="#000"/><rect x="1645" y="193" width="2" height="1" fill="#000"/><rect x="1645" y="226" width="2" height="1" fill="#000"/><rect x="1645" y="260" width="2" height="1" fill="#000"/><rect x="1645" y="293" width="2" height="1" fill="#000"/><rect x="1645" y="327" width="2" height="1" fill="#000"/><rect x="1645" y="360" width="2" height="1" fill="#000"/><rect x="1645" y="394" width="2" height="1" fill="#000"/><rect x="1645" y="427" width="2" height="1" fill="#000"/><rect x="1645" y="460" width="2" height="1" fill="#000"/><rect x="1645" y="494" width="2" height="1" fill="#000"/><rect x="1645" y="527" width="2" height="1" fill="#000"/><rect x="1645" y="560" width="2" height="1" fill="#000"/><rect x="1645" y="594" width="2" height="1" fill="#000"/><rect x="1645" y="601" width="2" height="1" fill="#000"/><rect x="1645" y="679" width="2" height="1" fill="#000"/><rect x="1645" y="710" width="2" height="1" fill="#000"/><rect x="1645" y="714" width="2" height="1" fill="#000"/><rect x="1645" y="824" width="2" height="1" fill="#000"/><rect x="5" y="825" width="1" height="3" fill="#000"/><rect x="69" y="825" width="1" height="3" fill="#000"/><rect x="133" y="825" width="1" height="3" fill="#000"/><rect x="197" y="825" width="1" height="3" fill="#000"/><rect x="261" y="825" width="1" height="3" fill="#000"/><rect x="325" y="825" width="1" height="3" fill="#000"/><rect x="389" y="825" width="1" height="3" fill="#000"/><rect x="453" y="825" width="1" height="3" fill="#000"/><rect x="517" y="825" width="1" height="3" fill="#000"/><rect x="581" y="825" width="1" height="3" fill="#000"/><rect x="645" y="825" width="1" height="3" fill="#000"/><rect x="709" y="825" width="1" height="3" fill="#000"/><rect x="773" y="825" width="1" height="3" fill="#000"/><rect x="837" y="825" width="1" height="3" fill="#000"/><rect x="901" y="825" width="1" height="3" fill="#000"/><rect x="965" y="825" width="1" height="3" fill="#000"/><rect x="1029" y="825" width="1" height="3" fill="#000"/><rect x="1093" y="825" width="1" height="3" fill="#000"/><rect x="1157" y="825" width="1" height="3" fill="#000"/><rect x="1221" y="825" width="1" height="3" fill="#000"/><rect x="1285" y="825" width="1" height="3" fill="#000"/><rect x="1349" y="825" width="1" height="3" fill="#000"/><rect x="1413" y="825" width="1" height="3" fill="#000"/></g>
<text transform="translate(1650,64.5) scale(0.885,1)" fill="#000" font-size="10.5" text-anchor="start">1.10105</text><text transform="translate(1650,97.5) scale(0.885,1)" fill="#000" font-size="10.5" text-anchor="start">1.09990</text><text transform="translate(1650,130.5) scale(0.885,1)" fill="#000" font-size="10.5" text-anchor="start">1.09880</text><text transform="translate(1650,164.5) scale(0.885,1)" fill="#000" font-size="10.5" text-anchor="start">1.09765</text><text transform="translate(1650,197.5) scale(0.885,1)" fill="#000" font-size="10.5" text-anchor="start">1.09650</text><text transform="translate(1650,230.5) scale(0.885,1)" fill="#000" font-size="10.5" text-anchor="start">1.09535</text><text transform="translate(1650,264.5) scale(0.885,1)" fill="#000" font-size="10.5" text-anchor="start">1.09425</text><text transform="translate(1650,297.5) scale(0.885,1)" fill="#000" font-size="10.5" text-anchor="start">1.09310</text><text transform="translate(1650,331.5) scale(0.885,1)" fill="#000" font-size="10.5" text-anchor="start">1.09195</text><text transform="translate(1650,364.5) scale(0.885,1)" fill="#000" font-size="10.5" text-anchor="start">1.09085</text><text transform="translate(1650,398.5) scale(0.885,1)" fill="#000" font-size="10.5" text-anchor="start">1.08970</text><text transform="translate(1650,431.5) scale(0.885,1)" fill="#000" font-size="10.5" text-anchor="start">1.08855</text><text transform="translate(1650,464.5) scale(0.885,1)" fill="#000" font-size="10.5" text-anchor="start">1.08745</text><text transform="translate(1650,498.5) scale(0.885,1)" fill="#000" font-size="10.5" text-anchor="start">1.08630</text><text transform="translate(1650,531.5) scale(0.885,1)" fill="#000" font-size="10.5" text-anchor="start">1.08515</text><text transform="translate(1650,564.5) scale(0.885,1)" fill="#000" font-size="10.5" text-anchor="start">1.08400</text><text transform="translate(1650,598.5) scale(0.885,1)" fill="#000" font-size="10.5" text-anchor="start">1.08290</text><rect x="1646" y="341" width="41" height="11" fill="#ff0000"/><text transform="translate(1650,350) scale(0.885,1)" fill="#fff" font-size="10.5" text-anchor="start">1.09128</text><rect x="1646" y="374" width="41" height="11" fill="#ff0000"/><text transform="translate(1650,383) scale(0.885,1)" fill="#fff" font-size="10.5" text-anchor="start">1.09016</text><rect x="1646" y="404" width="41" height="11" fill="#000000"/><text transform="translate(1650,413) scale(0.885,1)" fill="#fff" font-size="10.5" text-anchor="start">1.08913</text><rect x="1646" y="428" width="41" height="11" fill="#ffa500"/><text transform="translate(1650,437) scale(0.885,1)" fill="#fff" font-size="10.5" text-anchor="start">1.08833</text><rect x="1646" y="463" width="41" height="11" fill="#0000ff"/><text transform="translate(1650,472) scale(0.885,1)" fill="#fff" font-size="10.5" text-anchor="start">1.08714</text><rect x="1646" y="497" width="41" height="11" fill="#0000ff"/><text transform="translate(1650,506) scale(0.885,1)" fill="#fff" font-size="10.5" text-anchor="start">1.08599</text><text transform="translate(1648,610) scale(0.885,1)" fill="#000" font-size="10.5" text-anchor="start">0.005211</text><text transform="translate(1648,683) scale(0.885,1)" fill="#000" font-size="10.5" text-anchor="start">0.00</text><text transform="translate(1648,708) scale(0.885,1)" fill="#000" font-size="10.5" text-anchor="start">-0.00205</text><text transform="translate(1649,724) scale(0.885,1)" fill="#000" font-size="10.5" text-anchor="start">100</text><text transform="translate(1649,740) scale(0.885,1)" fill="#000" font-size="10.5" text-anchor="start">80</text><text transform="translate(1649,773) scale(0.885,1)" fill="#000" font-size="10.5" text-anchor="start">50</text><text transform="translate(1649,811) scale(0.885,1)" fill="#000" font-size="10.5" text-anchor="start">15</text><text transform="translate(1649,821) scale(0.885,1)" fill="#000" font-size="10.5" text-anchor="start">0</text><text transform="translate(3.7,837) scale(0.885,1)" fill="#000" font-size="10.5" text-anchor="start">16 Jun 2023</text><text transform="translate(67.7,837) scale(0.885,1)" fill="#000" font-size="10.5" text-anchor="start">18 Jun 23:00</text><text transform="translate(131.7,837) scale(0.885,1)" fill="#000" font-size="10.5" text-anchor="start">19 Jun 12:00</text><text transform="translate(195.7,837) scale(0.885,1)" fill="#000" font-size="10.5" text-anchor="start">20 Jun 04:00</text><text transform="translate(259.7,837) scale(0.885,1)" fill="#000" font-size="10.5" text-anchor="start">20 Jun 20:00</text><text transform="translate(323.7,837) scale(0.885,1)" fill="#000" font-size="10.5" text-anchor="start">21 Jun 12:00</text><text transform="translate(387.7,837) scale(0.885,1)" fill="#000" font-size="10.5" text-anchor="start">22 Jun 04:00</text><text transform="translate(451.7,837) scale(0.885,1)" fill="#000" font-size="10.5" text-anchor="start">22 Jun 20:00</text><text transform="translate(515.7,837) scale(0.885,1)" fill="#000" font-size="10.5" text-anchor="start">23 Jun 12:00</text><text transform="translate(579.7,837) scale(0.885,1)" fill="#000" font-size="10.5" text-anchor="start">26 Jun 04:00</text><text transform="translate(643.7,837) scale(0.885,1)" fill="#000" font-size="10.5" text-anchor="start">26 Jun 20:00</text><text transform="translate(707.7,837) scale(0.885,1)" fill="#000" font-size="10.5" text-anchor="start">27 Jun 12:00</text><text transform="translate(771.7,837) scale(0.885,1)" fill="#000" font-size="10.5" text-anchor="start">28 Jun 04:00</text><text transform="translate(835.7,837) scale(0.885,1)" fill="#000" font-size="10.5" text-anchor="start">28 Jun 20:00</text><text transform="translate(899.7,837) scale(0.885,1)" fill="#000" font-size="10.5" text-anchor="start">29 Jun 12:00</text><text transform="translate(963.7,837) scale(0.885,1)" fill="#000" font-size="10.5" text-anchor="start">30 Jun 04:00</text><text transform="translate(1027.7,837) scale(0.885,1)" fill="#000" font-size="10.5" text-anchor="start">2 Jul 23:00</text><text transform="translate(1091.7,837) scale(0.885,1)" fill="#000" font-size="10.5" text-anchor="start">3 Jul 12:00</text><text transform="translate(1155.7,837) scale(0.885,1)" fill="#000" font-size="10.5" text-anchor="start">4 Jul 04:00</text><text transform="translate(1219.7,837) scale(0.885,1)" fill="#000" font-size="10.5" text-anchor="start">4 Jul 20:00</text><text transform="translate(1283.7,837) scale(0.885,1)" fill="#000" font-size="10.5" text-anchor="start">5 Jul 12:00</text><text transform="translate(1347.7,837) scale(0.885,1)" fill="#000" font-size="10.5" text-anchor="start">6 Jul 04:00</text><text transform="translate(1411.7,837) scale(0.885,1)" fill="#000" font-size="10.5" text-anchor="start">6 Jul 20:00</text><text transform="translate(20,40) scale(0.885,1)" fill="#000" font-size="10.5" text-anchor="start">EURUSD-,H4&#160;&#160;1.08875 1.08915 1.08842 1.08913</text><polygon points="8,34 15,34 11.5,38" fill="#000"/><text transform="translate(9,612) scale(0.885,1)" fill="#000" font-size="10.5" text-anchor="start">MACD(12,26,9) -0.000620 -0.001021</text><text transform="translate(9,726) scale(0.885,1)" fill="#000" font-size="10.5" text-anchor="start">RSI(14) 52.1248</text><polygon points="1441,28 1451,28 1446,33" fill="#000"/>
</svg>
</body></html>
